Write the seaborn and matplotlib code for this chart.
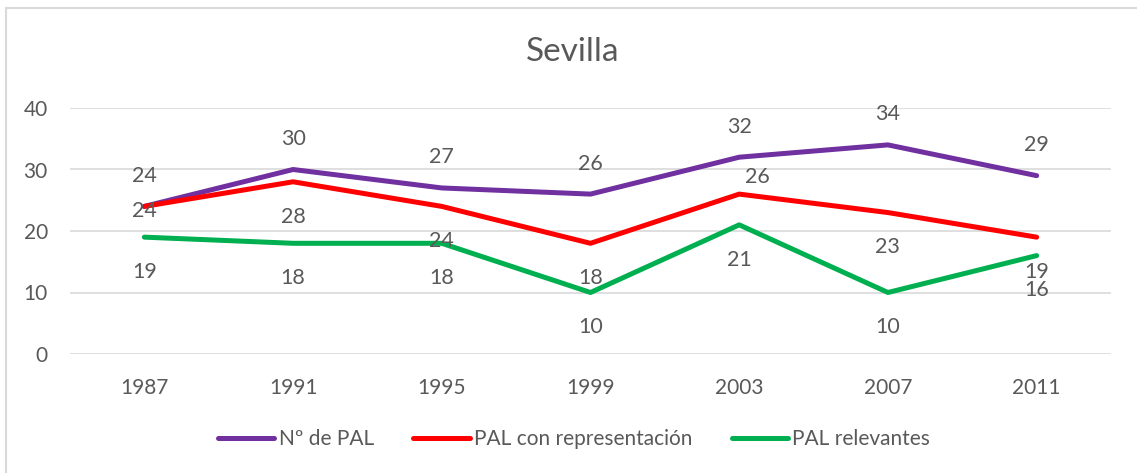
import pandas as pd
import seaborn as sns
import matplotlib.pyplot as plt
from matplotlib.patches import Rectangle

# data
years = ["1987", "1991", "1995", "1999", "2003", "2007", "2011"]
n_pal = [24, 30, 27, 26, 32, 34, 29]
pal_rep = [24, 28, 24, 18, 26, 23, 19]
pal_rel = [19, 18, 18, 10, 21, 10, 16]
series_names = ["Nº de PAL", "PAL con representación", "PAL relevantes"]

df = pd.DataFrame({
    "year": years * 3,
    "value": n_pal + pal_rep + pal_rel,
    "serie": [series_names[0]] * 7 + [series_names[1]] * 7 + [series_names[2]] * 7,
})

sns.set_style("white")
plt.rcParams['font.family'] = ['Lato', 'DejaVu Sans']
grey = "#595959"
fs = 15
colors = {series_names[0]: "#7030A0", series_names[1]: "#FF0000", series_names[2]: "#00B050"}

fig = plt.figure(figsize=(11.37, 4.73), dpi=100)
ax = fig.add_axes([70 / 1137, 1 - 354 / 473, (1111 - 70) / 1137, (354 - 108) / 473])

sns.lineplot(data=df, x="year", y="value", hue="serie", palette=colors, linewidth=3.6,
             sort=False, ax=ax, solid_capstyle="round")

ax.set_xlim(-0.5, 6.5)
ax.set_ylim(0, 40)
ax.set_yticks([0, 10, 20, 30, 40])
ax.grid(axis="y", color="#D9D9D9", linewidth=1.2)
ax.set_axisbelow(True)
for s in ax.spines.values():
    s.set_visible(False)
ax.tick_params(axis="both", length=0, labelsize=fs, labelcolor=grey)
ax.tick_params(axis="x", pad=17)
ax.tick_params(axis="y", pad=16)
ax.set_xlabel("")
ax.set_ylabel("")

# data labels (purple above, others below; two labels moved like in the original)
offsets = {series_names[0]: 22, series_names[1]: -25, series_names[2]: -25}
for name, vals in zip(series_names, [n_pal, pal_rep, pal_rel]):
    for i, v in enumerate(vals):
        dx, dy = 0, offsets[name]
        if name == series_names[1] and i == 0:
            dy = -3.5
        if name == series_names[1] and i == 4:
            dx, dy = 13, 12
        ax.annotate(str(v), (i, v), xytext=(dx, dy), textcoords="offset points",
                    ha="center", va="center", fontsize=15.5, color=grey)

handles, labels = ax.get_legend_handles_labels()
ax.get_legend().remove()
leg = fig.legend(handles, labels, loc="center", bbox_to_anchor=(0.505, 1 - 439 / 473), ncol=3,
                 frameon=False, fontsize=fs, handlelength=2.7, handletextpad=0.2,
                 columnspacing=1.9)
for t in leg.get_texts():
    t.set_color(grey)
for h in leg.get_lines():
    h.set_solid_capstyle("round")

fig.text(0.504, 1 - 52 / 473, "Sevilla", ha="center", va="center", fontsize=24, color=grey)

# chart border
fig.patches.append(Rectangle((6 / 1137, -0.1), 1.1, 1 - 8 / 473 + 0.1, transform=fig.transFigure,
                             fill=False, edgecolor="#D9D9D9", linewidth=1.5))

plt.savefig("out.png", dpi=100)
